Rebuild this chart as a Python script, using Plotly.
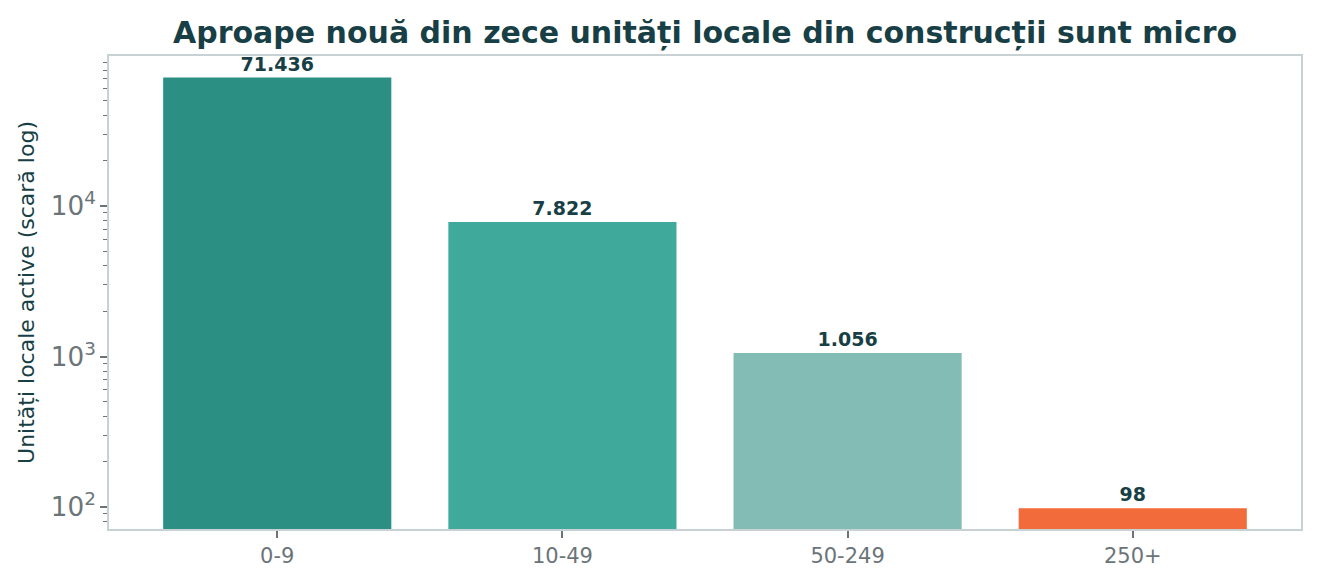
import plotly.graph_objects as go

categories = ["0-9", "10-49", "50-249", "250+"]
values = [71436, 7822, 1056, 98]
bar_colors = ["#2b8f84", "#3fa99c", "#82bcb5", "#f26b3a"]
labels = [f"{v:,}".replace(",", ".") for v in values]

title_text = "Aproape nouă din zece unități locale din construcții sunt micro"
ylabel = "Unități locale active (scară log)"

DARK = "#173f45"
GRAY = "#6b7479"
SPINE = "#c8d2d4"
FONT = "DejaVu Sans"

# page body has an 8px default margin; compensate so the figure fills 1318x588
W, H = 1310, 580

fig = go.Figure(
    go.Bar(
        x=categories,
        y=values,
        width=0.8,
        marker=dict(color=bar_colors, line=dict(width=0)),
        text=labels,
        textposition="outside",
        textfont=dict(family=FONT, size=19, color=DARK, weight="bold"),
        cliponaxis=False,
    )
)

fig.update_layout(
    width=W,
    height=H,
    margin=dict(l=101, r=17, t=48, b=59),
    paper_bgcolor="white",
    plot_bgcolor="white",
    font=dict(family=FONT, color=GRAY),
    showlegend=False,
    title=dict(
        text="<b>" + title_text + "</b>",
        x=0.5,
        xref="paper",
        xanchor="center",
        y=1 - 24 / H,
        yref="container",
        yanchor="middle",
        font=dict(family=FONT, size=30, color=DARK),
    ),
    bargap=0.2,
)

fig.update_xaxes(
    range=[-0.59, 3.59],
    showline=True,
    mirror=True,
    linecolor=SPINE,
    linewidth=1.7,
    ticks="outside",
    ticklen=7,
    tickwidth=1.7,
    tickcolor=GRAY,
    tickfont=dict(family=FONT, size=21, color=GRAY),
    showgrid=False,
    zeroline=False,
)

fig.update_yaxes(
    type="log",
    range=[1.854, 4.997],
    dtick=1,
    exponentformat="power",
    showexponent="all",
    showline=True,
    mirror=True,
    linecolor=SPINE,
    linewidth=1.7,
    ticks="outside",
    ticklen=7,
    tickwidth=1.7,
    tickcolor=GRAY,
    tickfont=dict(family=FONT, size=21, color=GRAY),
    minor=dict(ticks="outside", ticklen=4, tickwidth=1.3, tickcolor=GRAY, dtick="D1", showgrid=False),
    showgrid=False,
    zeroline=False,
    title=dict(text=ylabel, font=dict(family=FONT, size=22, color=DARK), standoff=10),
)

fig.write_html("out.html")
